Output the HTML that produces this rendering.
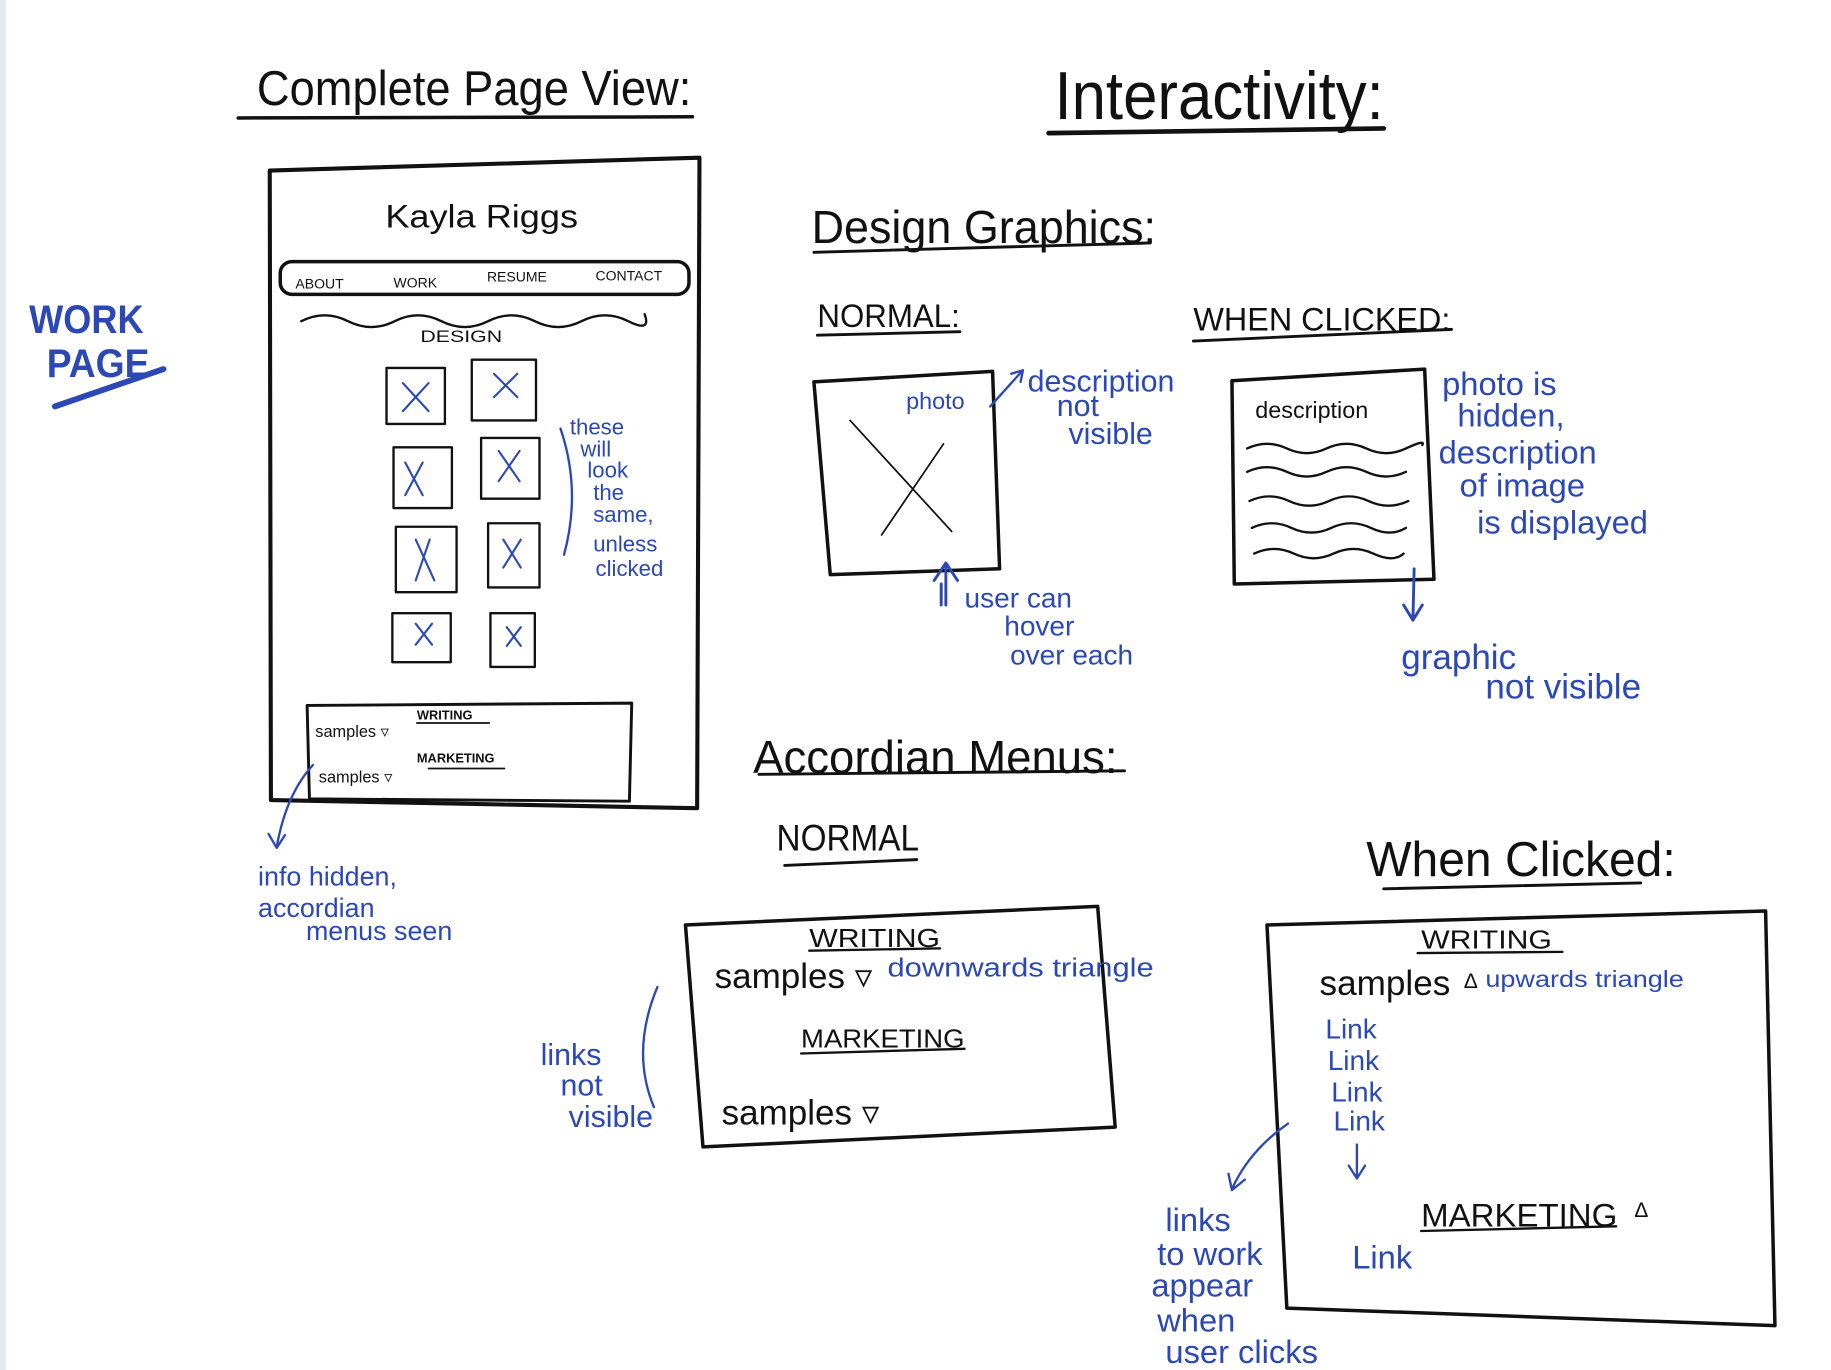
<!DOCTYPE html>
<html><head><meta charset="utf-8"><style>
html,body{margin:0;padding:0;background:#fff;}
svg{display:block;}
text{font-family:"Liberation Sans",sans-serif;}
.k{fill:#111;}
.b{fill:#2b48b4;}
.ks{stroke:#111;fill:none;stroke-linecap:round;stroke-linejoin:round;}
.bs{stroke:#2b48b4;fill:none;stroke-linecap:round;stroke-linejoin:round;}
</style></head><body>
<svg width="1831" height="1370" viewBox="0 0 1568 1173" preserveAspectRatio="none" xmlns="http://www.w3.org/2000/svg">
<rect x="0" y="0" width="1568" height="1173" fill="#fff"/>
<rect x="0" y="0" width="5" height="1173" fill="#e4e8f0"/>

<text class="k" x="220" y="90" font-size="42" textLength="372" lengthAdjust="spacingAndGlyphs">Complete Page View:</text>
<path class="ks" stroke-width="3" d="M204 101 L593 100"/>
<text class="k" x="903" y="102" font-size="58" textLength="282" lengthAdjust="spacingAndGlyphs">Interactivity:</text>
<path class="ks" stroke-width="4" d="M898 114 L1185 110"/>

<text class="b" x="25" y="285" font-size="34" font-weight="bold" textLength="98" lengthAdjust="spacingAndGlyphs">WORK</text>
<text class="b" x="40" y="323" font-size="34" font-weight="bold" textLength="88" lengthAdjust="spacingAndGlyphs">PAGE</text>
<path class="bs" stroke-width="5" d="M47 348 L140 316"/>

<path class="ks" stroke-width="3.5" d="M231 146 L599 135 L597 692 L232 685 Z"/>
<text class="k" x="330" y="195" font-size="28" textLength="165" lengthAdjust="spacingAndGlyphs">Kayla Riggs</text>
<rect class="ks" stroke-width="3" x="240" y="224" width="350" height="28" rx="10"/>
<text class="k" x="253" y="247" font-size="12">ABOUT</text>
<text class="k" x="337" y="246" font-size="12">WORK</text>
<text class="k" x="417" y="241" font-size="12">RESUME</text>
<text class="k" x="510" y="240" font-size="12">CONTACT</text>
<path class="ks" stroke-width="2" d="M258 275 q20 -10 40 0 t40 0 t40 0 t40 0 t40 0 t40 0 t40 0 t14 -6"/>
<text class="k" x="360" y="293" font-size="14" textLength="70" lengthAdjust="spacingAndGlyphs">DESIGN</text>
<g class="ks" stroke-width="2">
<rect x="331" y="315" width="50" height="48"/><rect x="404" y="308" width="55" height="52"/>
<rect x="337" y="383" width="50" height="52"/><rect x="412" y="375" width="50" height="52"/>
<rect x="339" y="451" width="52" height="56"/><rect x="418" y="448" width="44" height="55"/>
<rect x="336" y="525" width="50" height="42"/><rect x="420" y="525" width="38" height="46"/>
</g>
<g class="bs" stroke-width="1.8">
<path d="M345 328 L367 352 M367 328 L345 352"/><path d="M423 320 L443 340 M443 320 L423 340"/>
<path d="M347 396 L362 424 M362 396 L347 424"/><path d="M427 386 L445 412 M445 386 L427 412"/>
<path d="M356 462 L372 497 M368 462 L356 497"/><path d="M431 462 L446 486 M446 462 L431 486"/>
<path d="M356 534 L370 552 M370 534 L356 552"/><path d="M434 537 L446 553 M446 537 L434 553"/>
</g>
<path class="bs" stroke-width="2" d="M480 367 Q498 420 483 475"/>
<g class="b" font-size="19">
<text x="488" y="372">these</text><text x="497" y="391">will</text><text x="503" y="409">look</text>
<text x="508" y="428">the</text><text x="508" y="447">same,</text><text x="508" y="472">unless</text><text x="510" y="493">clicked</text>
</g>
<path class="ks" stroke-width="2.5" d="M263 604 L541 602 L539 686 L265 684 Z"/>
<text class="k" x="270" y="631" font-size="14">samples ▿</text>
<text class="k" x="357" y="616" font-size="11" font-weight="bold">WRITING</text>
<path class="ks" stroke-width="1.5" d="M357 619 L419 619"/>
<text class="k" x="357" y="653" font-size="11" font-weight="bold">MARKETING</text>
<path class="ks" stroke-width="1.5" d="M367 658 L432 658"/>
<text class="k" x="273" y="670" font-size="14">samples ▿</text>
<path class="bs" stroke-width="2" d="M268 655 Q245 680 237 725 M230 714 L237 726 L244 715"/>
<g class="b" font-size="23">
<text x="221" y="758">info hidden,</text><text x="221" y="785">accordian</text><text x="262" y="805">menus seen</text>
</g>

<text class="k" x="695" y="208" font-size="40" textLength="295" lengthAdjust="spacingAndGlyphs">Design Graphics:</text>
<path class="ks" stroke-width="2.5" d="M697 216 L985 208"/>
<text class="k" x="700" y="280" font-size="28" textLength="122" lengthAdjust="spacingAndGlyphs">NORMAL:</text>
<path class="ks" stroke-width="2.5" d="M700 287 L822 284"/>
<text class="k" x="1022" y="283" font-size="28" textLength="220" lengthAdjust="spacingAndGlyphs">WHEN CLICKED:</text>
<path class="ks" stroke-width="2.5" d="M1022 292 L1243 282"/>

<path class="ks" stroke-width="3" d="M697 327 L850 318 L856 487 L711 492 Z"/>
<text class="b" x="776" y="350" font-size="20">photo</text>
<path class="ks" stroke-width="1.5" d="M728 360 L815 455 M808 380 L755 458"/>
<path class="bs" stroke-width="2" d="M848 348 L875 318 M866 320 L876 317 L874 327"/>
<g class="b" font-size="26"><text x="880" y="335">description</text><text x="905" y="356">not</text><text x="915" y="380">visible</text></g>
<path class="bs" stroke-width="2.5" d="M810 518 L810 482 M800 497 L810 482 L820 497 M806 500 L806 518"/>
<g class="b" font-size="24"><text x="826" y="520">user can</text><text x="860" y="544">hover</text><text x="865" y="569">over each</text></g>

<path class="ks" stroke-width="3" d="M1055 326 L1220 316 L1228 496 L1057 500 Z"/>
<text class="k" x="1075" y="358" font-size="20">description</text>
<g class="ks" stroke-width="2">
<path d="M1068 384 q17 -8 34 0 t34 0 t34 0 t34 0 t14 -3"/>
<path d="M1068 404 q17 -8 34 0 t34 0 t34 0 t34 0"/>
<path d="M1070 429 q17 -8 34 0 t34 0 t34 0 t34 0"/>
<path d="M1072 452 q17 -8 34 0 t34 0 t34 0 t30 0"/>
<path d="M1074 474 q17 -8 34 0 t34 0 t34 0 t26 0"/>
</g>
<g class="b" font-size="28"><text x="1235" y="338">photo is</text><text x="1248" y="365">hidden,</text><text x="1232" y="397">description</text><text x="1250" y="425">of image</text><text x="1265" y="457">is displayed</text></g>
<path class="bs" stroke-width="2.5" d="M1211 487 L1210 530 M1202 518 L1210 531 L1218 518"/>
<g class="b" font-size="30"><text x="1200" y="573">graphic</text><text x="1272" y="598">not visible</text></g>

<text class="k" x="645" y="662" font-size="40" textLength="312" lengthAdjust="spacingAndGlyphs">Accordian Menus:</text>
<path class="ks" stroke-width="2.5" d="M650 663 L963 660"/>
<text class="k" x="665" y="728" font-size="32" textLength="122" lengthAdjust="spacingAndGlyphs">NORMAL</text>
<path class="ks" stroke-width="2.5" d="M672 741 L785 736"/>
<text class="k" x="1170" y="750" font-size="42" textLength="265" lengthAdjust="spacingAndGlyphs">When Clicked:</text>
<path class="ks" stroke-width="2.5" d="M1185 761 L1405 756"/>

<path class="ks" stroke-width="3" d="M587 792 L940 776 L955 965 L602 982 Z"/>
<text class="k" x="693" y="811" font-size="22" textLength="112" lengthAdjust="spacingAndGlyphs">WRITING</text>
<path class="ks" stroke-width="2" d="M693 814 L805 812"/>
<text class="k" x="612" y="846" font-size="30">samples ▿</text>
<text class="b" x="760" y="836" font-size="22" textLength="228" lengthAdjust="spacingAndGlyphs">downwards triangle</text>
<text class="k" x="686" y="897" font-size="22" textLength="140" lengthAdjust="spacingAndGlyphs">MARKETING</text>
<path class="ks" stroke-width="2" d="M686 902 L826 898"/>
<text class="k" x="618" y="963" font-size="30">samples ▿</text>
<path class="bs" stroke-width="2" d="M563 845 Q540 900 560 948"/>
<g class="b" font-size="26"><text x="463" y="912">links</text><text x="480" y="938">not</text><text x="487" y="965">visible</text></g>

<path class="ks" stroke-width="3" d="M1085 792 L1512 780 L1520 1135 L1102 1120 Z"/>
<text class="k" x="1217" y="812" font-size="22" textLength="112" lengthAdjust="spacingAndGlyphs">WRITING</text>
<path class="ks" stroke-width="2" d="M1214 816 L1338 815"/>
<text class="k" x="1130" y="852" font-size="30" textLength="112" lengthAdjust="spacingAndGlyphs">samples</text>
<text class="k" x="1254" y="846" font-size="18">∆</text>
<text class="b" x="1272" y="845" font-size="20" textLength="170" lengthAdjust="spacingAndGlyphs">upwards triangle</text>
<g class="b" font-size="24"><text x="1135" y="889">Link</text><text x="1137" y="916">Link</text><text x="1140" y="943">Link</text><text x="1142" y="968">Link</text></g>
<path class="bs" stroke-width="2" d="M1162 980 L1162 1008 M1155 998 L1162 1009 L1169 998"/>
<text class="k" x="1217" y="1050" font-size="28" textLength="168" lengthAdjust="spacingAndGlyphs">MARKETING</text>
<path class="ks" stroke-width="2" d="M1217 1054 L1384 1050"/>
<text class="k" x="1400" y="1042" font-size="18">∆</text>
<text class="b" x="1158" y="1086" font-size="28">Link</text>
<path class="bs" stroke-width="2" d="M1103 962 Q1070 985 1055 1018 M1052 1005 L1055 1019 L1066 1010"/>
<g class="b" font-size="28"><text x="998" y="1054">links</text><text x="991" y="1083">to work</text><text x="986" y="1110">appear</text><text x="991" y="1140">when</text><text x="998" y="1167">user clicks</text></g>
</svg>
</body></html>
